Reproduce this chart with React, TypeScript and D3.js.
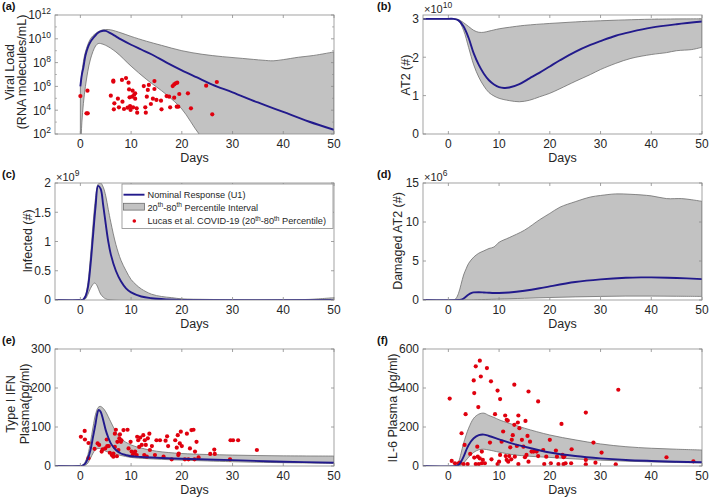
import React from "react";
import * as d3 from "d3";

const FONT = "'Liberation Sans', Arial, Helvetica, sans-serif";
const NAVY = "#221a8c";
const BAND = "#c2c2c2";
const BAND_EDGE = "#6e6e6e";
const DOT = "#e0000e";
const AXIS = "#8c8c8c";
const TXT = "#262626";

const xDomain = [-5, 50];
const xTicks = [0, 10, 20, 30, 40, 50];

// (a) Viral load (log10 values)
const aNomDays = [0, 0.3, 0.6, 1, 1.5, 2, 2.5, 3, 3.5, 4, 4.5, 5, 6, 7, 8, 10, 12, 14, 17, 20, 23, 26, 30, 35, 40, 45, 50];
const aNomLog = [6.0, 7.0, 7.6, 8.6, 9.3, 9.75, 10.05, 10.3, 10.5, 10.62, 10.68, 10.66, 10.45, 10.2, 9.95, 9.5, 9.1, 8.7, 8.0, 7.35, 6.75, 6.15, 5.5, 4.65, 3.85, 3.05, 2.35];
const aUpDays = [0, 0.5, 1, 2, 3, 4, 5, 6, 8, 10, 13, 16, 20, 24, 28, 32, 36, 38, 40, 43, 46, 50];
const aUpLog = [6.0, 7.8, 8.9, 10.0, 10.45, 10.7, 10.78, 10.75, 10.5, 10.2, 9.8, 9.45, 9.0, 8.7, 8.5, 8.35, 8.2, 8.15, 8.25, 8.45, 8.6, 8.9];
const aLowDays = [0, 0.3, 1, 2, 3, 3.5, 4, 5, 7, 10, 13, 17, 20, 23.4, 26, 30, 35, 40, 45, 50];
const aLowLog = [-1, 3, 6, 8.3, 9.4, 9.6, 9.6, 9.45, 8.9, 7.7, 6.6, 5.3, 4.1, 2.0, 0.8, -1, -1, -1, -1, -1];
const aPtDays = [0, 1.4, 1.2, 1.45, 6.0, 6.5, 6.5, 6.7, 6.6, 7.4, 7.6, 8.3, 8.6, 9.0, 8.2, 9.3, 9.5, 9.6, 9.7, 9.8, 9.9, 10.2, 10.3, 10.4, 10.6, 10.8, 10.8, 11.1, 11.2, 12.5, 12.8, 12.9, 13.1, 13.3, 13.5, 13.9, 14.3, 14.6, 14.6, 15.0, 15.9, 16.0, 17.0, 17.5, 17.7, 18.2, 18.5, 18.5, 18.8, 19.0, 19.1, 19.3, 19.5, 21.2, 21.8, 24.8, 26.0, 26.9];
const aPtLog = [5.19, 5.64, 3.74, 3.74, 5.22, 6.48, 6.4, 4.58, 4.07, 4.97, 4.24, 4.72, 4.1, 6.7, 6.54, 4.21, 6.31, 5.75, 5.08, 4.35, 4.02, 5.14, 5.64, 4.24, 5.3, 4.97, 5.42, 4.16, 3.79, 6.03, 4.24, 3.79, 5.14, 5.7, 6.12, 4.52, 4.97, 6.45, 5.78, 4.86, 4.8, 4.07, 5.19, 5.14, 4.24, 6.03, 5.05, 6.17, 6.26, 4.3, 6.31, 4.3, 5.36, 5.42, 4.16, 6.06, 3.65, 6.37];

// (b) AT2 (x1e10)
const bNomDays = [-5, 0, 1, 2, 3, 4, 5, 6, 7, 8, 9, 10, 11, 12, 14, 16, 18, 20, 22, 25, 28, 30, 33, 36, 40, 45, 50];
const bNomVals = [3, 3, 3, 2.96, 2.8, 2.5, 2.1, 1.8, 1.57, 1.4, 1.29, 1.22, 1.2, 1.21, 1.3, 1.45, 1.6, 1.76, 1.92, 2.14, 2.32, 2.42, 2.56, 2.66, 2.77, 2.86, 2.93];
const bUpDays = [-5, 0, 1.5, 2, 3, 4, 5, 6, 7, 8, 10, 12, 15, 20, 25, 30, 40, 50];
const bUpVals = [3, 3, 3, 2.98, 2.9, 2.8, 2.7, 2.65, 2.65, 2.68, 2.74, 2.78, 2.83, 2.88, 2.92, 2.95, 2.99, 3.0];
const bLowDays = [-5, 0, 1, 2, 3, 4, 5, 6, 7, 8, 9, 10, 12, 14, 16, 18, 20, 22, 25, 28, 30, 33, 36, 40, 43, 45, 48, 50];
const bLowVals = [3, 3, 3, 2.95, 2.7, 2.25, 1.8, 1.48, 1.25, 1.08, 0.99, 0.93, 0.87, 0.84, 0.88, 0.97, 1.06, 1.18, 1.37, 1.55, 1.68, 1.84, 1.97, 2.07, 2.12, 2.17, 2.2, 2.26];

// (c) Infected (x1e9)
const cNomDays = [-5, 0, 0.5, 1, 1.5, 2, 2.5, 3, 3.5, 4, 4.5, 5, 5.5, 6, 7, 8, 9, 10, 12, 14, 17, 20, 50];
const cNomVals = [0, 0, 0.005, 0.06, 0.22, 0.6, 1.1, 1.6, 1.95, 1.9, 1.62, 1.3, 1.0, 0.78, 0.5, 0.32, 0.2, 0.13, 0.06, 0.03, 0.01, 0, 0];
const cUpDays = [-5, 0, 0.5, 1, 1.5, 2, 2.5, 3, 3.5, 4, 4.5, 5, 5.5, 6, 7, 8, 9, 10, 11, 12, 14, 16, 18, 20, 25, 30, 40, 45, 50];
const cUpVals = [0, 0, 0.01, 0.08, 0.3, 0.75, 1.3, 1.75, 1.98, 2.0, 1.93, 1.78, 1.55, 1.33, 0.95, 0.68, 0.5, 0.35, 0.26, 0.19, 0.1, 0.06, 0.04, 0.02, 0.01, 0.005, 0.005, 0.01, 0.04];
const cLowDays = [-5, 0.5, 1, 1.5, 2, 2.5, 2.8, 3.2, 3.6, 4, 4.5, 5, 6, 50];
const cLowVals = [0, 0, 0.02, 0.1, 0.2, 0.27, 0.29, 0.26, 0.18, 0.1, 0.05, 0.02, 0, 0];

// (d) Damaged AT2 (x1e6)
const dNomDays = [-5, 2, 2.5, 3, 3.5, 4, 4.5, 5, 6, 7, 8, 9, 10, 12, 15, 18, 20, 25, 30, 35, 38, 40, 45, 50];
const dNomVals = [0, 0, 0.05, 0.2, 0.45, 0.7, 0.88, 0.97, 1.0, 0.97, 0.93, 0.9, 0.9, 0.97, 1.19, 1.5, 1.75, 2.3, 2.64, 2.85, 2.9, 2.9, 2.82, 2.68];
const dUpDays = [-5, 1, 1.5, 2, 2.5, 3, 3.5, 4, 5, 6, 7, 8, 9, 10, 12, 15, 18, 20, 22, 25, 28, 30, 33, 36, 40, 43, 46, 48, 50];
const dUpVals = [0, 0, 0.2, 0.85, 2.0, 3.2, 4.0, 4.7, 5.5, 6.0, 6.3, 6.6, 6.8, 7.4, 8.0, 8.95, 10.3, 11.1, 11.9, 12.6, 13.2, 13.4, 13.6, 13.55, 13.35, 13.0, 13.0, 12.85, 12.65];
const dLowDays = [-5, 3, 5, 8, 10, 15, 20, 25, 30, 35, 40, 45, 50];
const dLowVals = [0, 0, 0.02, 0.08, 0.12, 0.22, 0.32, 0.4, 0.46, 0.5, 0.5, 0.48, 0.46];

// (e) Type I IFN
const eNomDays = [-5, 0, 0.3, 0.7, 1, 1.5, 2, 2.5, 3, 3.3, 3.6, 4, 4.5, 5, 5.5, 6, 7, 8, 9, 10, 12, 15, 20, 25, 30, 40, 50];
const eNomVals = [0, 0, 0.5, 3, 7, 20, 41, 75, 109, 132, 144, 139, 118, 92, 73, 58, 41, 32, 28, 25, 23, 21, 18.5, 16.5, 15, 11, 8.5];
const eUpDays = [-5, 0, 0.3, 0.7, 1, 1.5, 2, 2.5, 3, 3.5, 3.9, 4.5, 5, 6, 7, 8, 10, 12, 15, 20, 30, 40, 50];
const eUpVals = [0, 0, 1, 5, 12, 30, 62, 100, 133, 150, 153, 148, 139, 113, 88, 70, 54, 46, 38, 32, 28, 26, 25.5];
const eLowDays = [-5, 0.5, 1, 1.5, 2, 2.5, 3, 3.5, 4, 5, 6, 7, 8, 10, 13, 16, 20, 25, 30, 40, 50];
const eLowVals = [0, 0, 2, 8, 20, 33, 42, 45, 44, 38, 34, 30, 27, 22, 19, 17, 15, 13, 11, 8.5, 7];
const ePtDays = [0.1, 0.85, 0.9, 1.6, 1.6, 2.8, 3.4, 3.7, 4.2, 4.4, 4.9, 5.2, 5.3, 5.6, 5.8, 6.2, 6.5, 6.5, 6.8, 6.8, 7.0, 7.2, 7.3, 7.5, 7.7, 7.8, 8.0, 8.1, 8.5, 9.3, 9.5, 9.9, 10.1, 10.3, 10.6, 10.8, 11.1, 11.2, 11.4, 11.6, 11.8, 12.1, 12.4, 12.6, 12.7, 12.9, 13.1, 13.3, 13.6, 13.7, 14.1, 14.7, 15.0, 15.7, 16.4, 16.8, 17.1, 17.3, 18.0, 18.7, 19.0, 19.2, 19.3, 19.4, 19.6, 19.8, 20.0, 20.6, 21.0, 21.3, 21.6, 21.9, 22.3, 22.5, 22.6, 22.9, 23.3, 25.6, 26.4, 26.5, 29.5, 29.6, 30.1, 31.1, 34.8];
const ePtVals = [75, 90, 68, 59, 20, 44, 58, 54, 37, 43, 45, 68, 51, 51, 34, 28, 32, 24, 49, 83, 93, 25, 62, 41, 71, 81, 62, 66, 92, 93, 45, 62, 37, 28, 32, 37, 28, 75, 66, 49, 73, 54, 79, 28, 66, 54, 24, 71, 83, 41, 51, 28, 66, 66, 24, 65, 76, 51, 17, 66, 47, 79, 28, 32, 58, 88, 51, 17, 83, 17, 45, 92, 93, 17, 37, 62, 22, 31, 42, 31, 17, 66, 66, 66, 41];

// (f) IL-6
const fNomDays = [-5, 1.5, 2, 2.5, 3, 3.5, 4, 5, 6, 7, 8, 10, 12, 15, 20, 25, 30, 35, 40, 45, 50];
const fNomVals = [0, 0, 5, 22, 48, 80, 108, 142, 158, 161, 154, 137, 120, 99, 69, 51, 39, 31, 26, 22, 19];
const fUpDays = [-5, 1.3, 2, 2.5, 3, 4, 5, 6, 7, 8, 9, 10, 12, 15, 20, 25, 30, 35, 40, 45, 50];
const fUpVals = [0, 0, 22, 65, 117, 194, 245, 266, 271, 259, 249, 237, 219, 194, 159, 134, 113, 99, 91, 86, 82];
const fLowDays = [-5, 1.8, 2.5, 3, 3.5, 4, 5, 6, 7, 8, 10, 13, 16, 20, 25, 30, 35, 40, 45, 50];
const fLowVals = [0, 0, 4, 15, 30, 45, 70, 83, 86, 82, 71, 57, 50, 44, 36, 30, 25, 21, 18, 16];
const fPtDays = [0.26, 0.66, 1.3, 2.0, 2.3, 2.6, 3.0, 3.2, 3.4, 3.8, 4.3, 5.0, 5.1, 5.4, 5.1, 5.4, 5.7, 5.8, 5.9, 6.0, 6.2, 6.4, 6.2, 6.6, 6.6, 6.8, 7.2, 7.6, 8.2, 8.4, 8.5, 9.2, 9.7, 9.7, 10.0, 10.2, 10.2, 10.5, 10.8, 11.2, 11.3, 11.5, 11.5, 11.7, 11.8, 12.0, 12.2, 12.4, 12.5, 12.7, 13.0, 13.0, 13.1, 13.5, 13.7, 13.8, 13.8, 14.0, 14.5, 14.8, 15.1, 15.2, 15.4, 15.6, 15.8, 15.8, 16.1, 16.4, 16.8, 17.4, 17.7, 17.7, 18.7, 18.9, 19.3, 20.0, 20.2, 21.2, 21.4, 21.7, 22.3, 22.5, 22.7, 22.7, 22.9, 23.1, 24.3, 24.2, 27.1, 27.1, 27.1, 28.6, 29.0, 30.2, 33.0, 33.5, 43.0, 48.3];
const fPtVals = [346, 26, 14, 14, 17, 168, 10, 108, 266, 10, 62, 439, 374, 511, 43, 10, 99, 48, 302, 10, 540, 459, 39, 74, 14, 31, 14, 502, 120, 434, 34, 266, 387, 10, 22, 343, 57, 125, 177, 259, 51, 237, 31, 233, 22, 51, 96, 34, 134, 158, 417, 211, 48, 103, 223, 259, 10, 194, 134, 99, 45, 231, 57, 154, 382, 22, 125, 74, 74, 74, 331, 51, 82, 10, 48, 134, 14, 79, 48, 10, 216, 57, 45, 10, 51, 14, 86, 14, 274, 31, 9, 120, 17, 69, 9, 391, 45, 24];

type Tick = { v: number; label: React.ReactNode };

const pow10 = (v: number) => Math.pow(10, v);

const logTicks: Tick[] = [2, 4, 6, 8, 10, 12].map((e) => ({
  v: pow10(e),
  label: (
    <>
      10<tspan dy={-5} fontSize={8.5}>{e}</tspan>
    </>
  ),
}));
const logMinor = [3, 5, 7, 9, 11].map(pow10);
const bTicks: Tick[] = [0, 1, 2, 3].map((v) => ({ v, label: String(v) }));
const cTicks: Tick[] = [0, 0.5, 1, 1.5, 2].map((v) => ({ v, label: String(v) }));
const dTicks: Tick[] = [0, 5, 10, 15].map((v) => ({ v, label: String(v) }));
const eTicks: Tick[] = [0, 100, 200, 300].map((v) => ({ v, label: String(v) }));
const fTicks: Tick[] = [0, 200, 400, 600].map((v) => ({ v, label: String(v) }));

type PanelDef = {
  id: string;
  tag: string;
  left: number; right: number; top: number; bottom: number;
  log?: boolean;
  yDomain: [number, number];
  yTicks: Tick[];
  yMinor?: number[];
  exp?: string;
  yLabel: string[];
  yLabelX: number[];
  yLabelY: number;
  nom: [number[], number[]];
  up: [number[], number[]];
  low: [number[], number[]];
  pts?: [number[], number[]];
};

const panels: PanelDef[] = [
  { id: "a", tag: "(a)", left: 55, right: 334, top: 15, bottom: 134, log: true, yDomain: [1e2, 1e12], yTicks: logTicks, yMinor: logMinor,
    yLabel: ["Viral Load", "(RNA molecules/mL)"], yLabelX: [10, 22], yLabelY: 72,
    nom: [aNomDays, aNomLog], up: [aUpDays, aUpLog], low: [aLowDays, aLowLog], pts: [aPtDays, aPtLog] },
  { id: "b", tag: "(b)", left: 423, right: 702, top: 15, bottom: 134, yDomain: [0, 3.1], yTicks: bTicks, exp: "10",
    yLabel: ["AT2 (#)"], yLabelX: [406], yLabelY: 75,
    nom: [bNomDays, bNomVals], up: [bUpDays, bUpVals], low: [bLowDays, bLowVals] },
  { id: "c", tag: "(c)", left: 55, right: 334, top: 183, bottom: 300, yDomain: [0, 2], yTicks: cTicks, exp: "9",
    yLabel: ["Infected (#)"], yLabelX: [28], yLabelY: 241,
    nom: [cNomDays, cNomVals], up: [cUpDays, cUpVals], low: [cLowDays, cLowVals] },
  { id: "d", tag: "(d)", left: 423, right: 702, top: 183, bottom: 300, yDomain: [0, 15], yTicks: dTicks, exp: "6",
    yLabel: ["Damaged AT2 (#)"], yLabelX: [398], yLabelY: 241,
    nom: [dNomDays, dNomVals], up: [dUpDays, dUpVals], low: [dLowDays, dLowVals] },
  { id: "e", tag: "(e)", left: 55, right: 334, top: 349, bottom: 466, yDomain: [0, 300], yTicks: eTicks,
    yLabel: ["Type I IFN", "Plasma(pg/ml)"], yLabelX: [11, 25], yLabelY: 404,
    nom: [eNomDays, eNomVals], up: [eUpDays, eUpVals], low: [eLowDays, eLowVals], pts: [ePtDays, ePtVals] },
  { id: "f", tag: "(f)", left: 423, right: 702, top: 349, bottom: 466, yDomain: [0, 600], yTicks: fTicks,
    yLabel: ["IL-6 Plasma (pg/ml)"], yLabelX: [393], yLabelY: 408,
    nom: [fNomDays, fNomVals], up: [fUpDays, fUpVals], low: [fLowDays, fLowVals], pts: [fPtDays, fPtVals] },
];

function Panel({ p }: { p: PanelDef }) {
  const x = d3.scaleLinear().domain(xDomain).range([p.left, p.right]);
  const y: any = p.log
    ? d3.scaleLog().domain(p.yDomain).range([p.bottom, p.top])
    : d3.scaleLinear().domain(p.yDomain).range([p.bottom, p.top]);
  const tf = p.log ? pow10 : (v: number) => v;
  const toPts = (s: [number[], number[]]) => s[0].map((d, i) => [d, tf(s[1][i])] as [number, number]);
  const line = d3
    .line<[number, number]>()
    .x((d) => x(d[0]))
    .y((d) => y(d[1]))
    .curve(d3.curveCatmullRom.alpha(0.5));
  const upPath = line(toPts(p.up)) as string;
  const lowPath = line(toPts(p.low).reverse()) as string;
  const bandPath = upPath + "L" + lowPath.slice(1) + "Z";
  const nomPath = line(toPts(p.nom)) as string;
  const clipId = "clip-" + p.id;
  const tl = 3;
  const tickX = p.bottom + 14;
  return (
    <g>
      <defs>
        <clipPath id={clipId}>
          <rect x={p.left} y={p.top} width={p.right - p.left} height={p.bottom - p.top} />
        </clipPath>
      </defs>
      <g clipPath={`url(#${clipId})`}>
        <path d={bandPath} fill={BAND} stroke={BAND_EDGE} strokeWidth={0.8} />
        {p.pts &&
          toPts(p.pts).map((d, i) => <circle key={i} cx={x(d[0])} cy={y(d[1])} r={2.1} fill={DOT} />)}
        <path d={nomPath} fill="none" stroke={NAVY} strokeWidth={1.9} />
      </g>
      <rect x={p.left} y={p.top} width={p.right - p.left} height={p.bottom - p.top} fill="none" stroke={AXIS} strokeWidth={0.8} />
      {xTicks.map((t) => (
        <g key={"x" + t}>
          <line x1={x(t)} x2={x(t)} y1={p.bottom} y2={p.bottom - tl} stroke={AXIS} strokeWidth={0.8} />
          <line x1={x(t)} x2={x(t)} y1={p.top} y2={p.top + tl} stroke={AXIS} strokeWidth={0.8} />
          <text x={x(t)} y={tickX} fontSize={12} textAnchor="middle" fill={TXT}>{t}</text>
        </g>
      ))}
      <text x={(p.left + p.right) / 2} y={p.bottom + 28} fontSize={12.5} textAnchor="middle" fill={TXT}>Days</text>
      {p.yTicks.map((t, i) => (
        <g key={"y" + i}>
          <line x1={p.left} x2={p.left + tl} y1={y(t.v)} y2={y(t.v)} stroke={AXIS} strokeWidth={0.8} />
          <line x1={p.right} x2={p.right - tl} y1={y(t.v)} y2={y(t.v)} stroke={AXIS} strokeWidth={0.8} />
          <text x={p.left - 4} y={y(t.v) + 4.3} fontSize={12} textAnchor="end" fill={TXT}>{t.label}</text>
        </g>
      ))}
      {p.yMinor &&
        p.yMinor.map((v, i) => (
          <g key={"m" + i}>
            <line x1={p.left} x2={p.left + 2} y1={y(v)} y2={y(v)} stroke={AXIS} strokeWidth={0.6} />
            <line x1={p.right} x2={p.right - 2} y1={y(v)} y2={y(v)} stroke={AXIS} strokeWidth={0.6} />
          </g>
        ))}
      {p.exp && (
        <text x={p.left + 1} y={p.top - 2} fontSize={11} fill={TXT}>
          ×10<tspan dy={-5} fontSize={8.5}>{p.exp}</tspan>
        </text>
      )}
      {p.yLabel.map((s, i) => (
        <text
          key={"l" + i}
          transform={`translate(${p.yLabelX[i]},${p.yLabelY}) rotate(-90)`}
          fontSize={12.5}
          textAnchor="middle"
          dominantBaseline="central"
          fill={TXT}
        >
          {s}
        </text>
      ))}
      <text x={p.left < 100 ? 2 : 377} y={p.top - 5} fontSize={11} fontWeight="bold" fill="#111">{p.tag}</text>
    </g>
  );
}

function Legend() {
  const lx = 122, ly = 184, lw = 211, lh = 44.5;
  const tx = 147.5;
  const fs = 9.2;
  return (
    <g fontSize={fs} fill={TXT}>
      <rect x={lx} y={ly} width={lw} height={lh} fill="#fff" stroke={AXIS} strokeWidth={0.8} />
      <line x1={123.5} x2={144.5} y1={194.7} y2={194.7} stroke={NAVY} strokeWidth={1.9} />
      <text x={tx} y={198}>Nominal Response (U1)</text>
      <rect x={123.5} y={203.3} width={21} height={6.8} fill={BAND} stroke={BAND_EDGE} strokeWidth={0.8} />
      <text x={tx} y={210.5}>
        20<tspan dy={-3.5} fontSize={6.6}>th</tspan>
        <tspan dy={3.5}>-80</tspan>
        <tspan dy={-3.5} fontSize={6.6}>th</tspan>
        <tspan dy={3.5}> Percentile Interval</tspan>
      </text>
      <circle cx={134.3} cy={221} r={1.8} fill={DOT} />
      <text x={tx} y={224.3}>
        Lucas et al. COVID-19 (20<tspan dy={-3.5} fontSize={6.6}>th</tspan>
        <tspan dy={3.5}>-80</tspan>
        <tspan dy={-3.5} fontSize={6.6}>th</tspan>
        <tspan dy={3.5}> Percentile)</tspan>
      </text>
    </g>
  );
}

export default function App() {
  return (
    <svg
      width={709}
      height={500}
      style={{ position: "absolute", left: 0, top: 0, background: "#fff" }}
      fontFamily={FONT}
    >
      <rect width={709} height={500} fill="#fff" />
      {panels.map((p) => (
        <Panel key={p.id} p={p} />
      ))}
      <Legend />
    </svg>
  );
}
